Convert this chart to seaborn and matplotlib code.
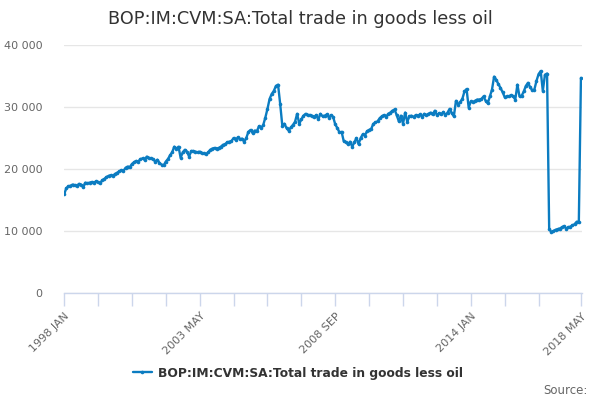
import matplotlib
matplotlib.use("Agg")
import matplotlib.pyplot as plt
import seaborn as sns
import pandas as pd
import numpy as np

title = "BOP:IM:CVM:SA:Total trade in goods less oil"
series_name = "BOP:IM:CVM:SA:Total trade in goods less oil"

v1998 = [15900, 16900, 17200, 17300, 17500, 17400, 17300, 17600, 17500, 17100, 17800, 17700]
v1999 = [17800, 17900, 17800, 18000, 17900, 17700, 18200, 18400, 18700, 18900, 19000, 18900]
v2000 = [19200, 19400, 19600, 19800, 19700, 20200, 20400, 20300, 20800, 21100, 21300, 21200]
v2001 = [21600, 21700, 21500, 22000, 21800, 21700, 21600, 21200, 21500, 21000, 20700, 20600]
v2002 = [21200, 21600, 22200, 22700, 23600, 23300, 23600, 21800, 22700, 23100, 22800, 22000]
v2003 = [22900, 22900, 22800, 22700, 22800, 22600, 22500, 22400, 22700, 23100, 23300, 23400]
v2004 = [23300, 23400, 23600, 23900, 24000, 24300, 24400, 24500, 25000, 24700, 25100, 24800]
v2005 = [24900, 24400, 25000, 26000, 26300, 25800, 26200, 26100, 26900, 26600, 27100, 28300]
v2006 = [29700, 31300, 32100, 32600, 33400, 33600, 30500, 27000, 27300, 26600, 26200, 26700]
v2007 = [27100, 27600, 28900, 27300, 28000, 28600, 28900, 28700, 28700, 28600, 28400, 28700]
v2008 = [28000, 28900, 28500, 28600, 28800, 28300, 28700, 28400, 27200, 26600, 25900, 26000]
v2009 = [24500, 24300, 24000, 24400, 23600, 24300, 25000, 24000, 25000, 25600, 25400, 26100]
v2010 = [26300, 26500, 27300, 27500, 27700, 28200, 28500, 28700, 28400, 28900, 29100, 29400]
v2011 = [29600, 28700, 27700, 28600, 27300, 29100, 27600, 28500, 28600, 28400, 28700, 28600]
v2012 = [28800, 28400, 28900, 28700, 28900, 29100, 28800, 29400, 28700, 29000, 28800, 29200]
v2013 = [28700, 29100, 29700, 29000, 28500, 31000, 30400, 30800, 31300, 32500, 32900, 29900]
v2014 = [30900, 30800, 31000, 31200, 31200, 31300, 31700, 31000, 30600, 31700, 32800, 34900]
v2015 = [34400, 33700, 33100, 32400, 31600, 31700, 31700, 31900, 31700, 31200, 33600, 31700]
v2016 = [31800, 32500, 33400, 33900, 33200, 32700, 32800, 34200, 35300, 35800, 32600, 35200]
v2017 = [35400, 10400, 9800, 10000, 10200, 10300, 10400, 10600, 10800, 10400, 10600, 10700]
v2018 = [10900, 11100, 11500, 11400, 34700]

values = (v1998 + v1999 + v2000 + v2001 + v2002 + v2003 + v2004 + v2005 + v2006 +
          v2007 + v2008 + v2009 + v2010 + v2011 + v2012 + v2013 + v2014 + v2015 +
          v2016 + v2017 + v2018)

months = ["JAN", "FEB", "MAR", "APR", "MAY", "JUN", "JUL", "AUG", "SEP", "OCT", "NOV", "DEC"]
periods = [f"{1998 + i // 12} {months[i % 12]}" for i in range(len(values))]

tick_idx = list(range(0, 225, 16)) + [244]
label_idx = [0, 64, 128, 192, 244]
y_ticks = [0, 10000, 20000, 30000, 40000]
y_labels = ["0", "10 000", "20 000", "30 000", "40 000"]

df = pd.DataFrame({"idx": np.arange(len(values)), "period": periods, "value": values})

sns.set_theme(style="white")
plt.rcParams['font.family'] = ['DejaVu Sans']

fig = plt.figure(figsize=(6, 4), dpi=100)
ax = fig.add_axes([63.5 / 600, 1 - 293 / 400, 518.5 / 600, 248 / 400])

line_color = "#0b7cc1"
sns.lineplot(data=df, x="idx", y="value", ax=ax, color=line_color, linewidth=1.7,
             marker="o", markersize=2.6, markeredgewidth=0, label=series_name)

ax.set_xlim(-0.3, 244.5)
ax.set_ylim(0, 40000)
ax.set_yticks(y_ticks)
ax.set_yticklabels(y_labels)
ax.yaxis.grid(True, color="#e6e6e6", linewidth=1)
ax.set_axisbelow(True)
ax.tick_params(axis="y", length=0, pad=15, labelsize=8, labelcolor="#666666")

ax.set_xticks(tick_idx)
ax.set_xticklabels([periods[i] if i in label_idx else "" for i in tick_idx],
                   rotation=45, ha="right", va="top", rotation_mode="anchor")
ax.tick_params(axis="x", length=9, width=1, color="#ccd6eb", pad=4,
               labelsize=8, labelcolor="#666666", direction="out", bottom=True)
ax.set_xlabel("")
ax.set_ylabel("")

for s in ["top", "right", "left"]:
    ax.spines[s].set_visible(False)
ax.spines["bottom"].set_color("#ccd6eb")
ax.spines["bottom"].set_linewidth(1)

fig.text(0.5, 1 - 19 / 400, title, ha="center", va="center", fontsize=12.7, color="#333333")

leg = ax.legend(loc="center", bbox_to_anchor=(298 / 600, 1 - 373 / 400),
                bbox_transform=fig.transFigure, frameon=False, handlelength=1.6,
                handletextpad=0.5, prop={"weight": "bold", "size": 8.8})
for t in leg.get_texts():
    t.set_color("#333333")

fig.text(588 / 600, 1 - 390 / 400, "Source:", ha="right", va="center", fontsize=8.5, color="#666666")

fig.savefig("out.png", dpi=100)
